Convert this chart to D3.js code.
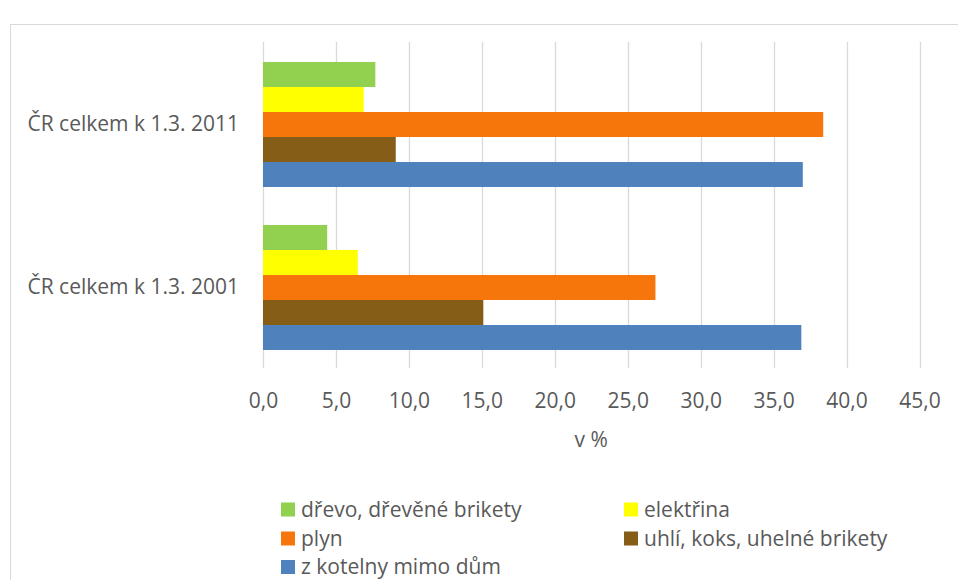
<!DOCTYPE html>
<html>
<head>
<meta charset="utf-8">
<script src="https://cdn.jsdelivr.net/npm/d3@7"></script>
<style>
  html, body { margin: 0; padding: 0; background: #fff; }
  svg { display: block; }
  text { font-family: "Open Sans", Lato, sans-serif; fill: #595959; }
</style>
</head>
<body>
<svg id="chart" width="958" height="580"></svg>
<script>
// Categories (census years), top to bottom
const categories = ["ČR celkem k 1.3. 2011", "ČR celkem k 1.3. 2001"];

// Heating source series, in legend / bar order
const seriesNames = [
  "dřevo, dřevěné brikety",
  "elektřina",
  "plyn",
  "uhlí, koks, uhelné brikety",
  "z kotelny mimo dům"
];
const seriesColors = ["#92d050", "#ffff00", "#f6760b", "#865d17", "#4f81bd"];

// Share of dwellings, v % (one value per category)
const drevo     = [7.7, 4.4];
const elektrina = [6.9, 6.5];
const plyn      = [38.4, 26.9];
const uhli      = [9.1, 15.1];
const kotelna   = [37.0, 36.9];
const seriesValues = [drevo, elektrina, plyn, uhli, kotelna];

const xTicks = [0, 5, 10, 15, 20, 25, 30, 35, 40, 45];
const xTitle = "v %";

const svg = d3.select("#chart");
const fs = 21;
const font = "'Open Sans', Lato, sans-serif";

// chart frame
svg.append("rect")
  .attr("x", 10.5).attr("y", 24.5)
  .attr("width", 1000).attr("height", 600)
  .attr("fill", "none").attr("stroke", "#d9d9d9").attr("stroke-width", 1);

const x = d3.scaleLinear().domain([0, 45]).range([263, 919.5]);
const y = d3.scaleBand().domain(categories).range([43, 369])
  .paddingInner(0.233).paddingOuter(0.1166);
const ySub = d3.scaleBand().domain(seriesNames).range([0, y.bandwidth()]);

// vertical gridlines
svg.append("g").selectAll("line").data(xTicks).join("line")
  .attr("x1", d => Math.round(x(d)) + 0.5).attr("x2", d => Math.round(x(d)) + 0.5)
  .attr("y1", 42).attr("y2", 368)
  .attr("stroke", "#d9d9d9").attr("stroke-width", 1.3);

// bars
const rows = [];
categories.forEach((c, ci) => {
  seriesNames.forEach((s, si) => {
    rows.push({ cat: c, series: s, value: seriesValues[si][ci], color: seriesColors[si] });
  });
});
svg.append("g").selectAll("rect").data(rows).join("rect")
  .attr("x", x(0))
  .attr("y", d => y(d.cat) + ySub(d.series))
  .attr("width", d => x(d.value) - x(0))
  .attr("height", ySub.bandwidth())
  .attr("fill", d => d.color);

// x axis tick labels
const xAxis = d3.axisBottom(x).tickValues(xTicks)
  .tickFormat(d => d3.format(".1f")(d).replace(".", ","))
  .tickSize(0).tickPadding(0);
const gx = svg.append("g").attr("transform", "translate(0,407.5)").call(xAxis);
gx.select(".domain").remove();
gx.selectAll("text").attr("font-size", fs).attr("fill", "#595959")
  .attr("font-family", font).attr("y", 0).attr("dy", null);

// axis title
svg.append("text").attr("x", x(22.5)).attr("y", 447)
  .attr("text-anchor", "middle").attr("font-size", fs).text(xTitle);

// category labels
const yAxis = d3.axisLeft(y).tickSize(0).tickPadding(24);
const gy = svg.append("g").attr("transform", `translate(${x(0)},0)`).call(yAxis);
gy.select(".domain").remove();
gy.selectAll("text").attr("font-size", fs).attr("fill", "#595959")
  .attr("font-family", font);

// legend
const legendPos = [[281, 509.5], [624, 509.5], [281, 538.5], [624, 538.5], [281, 567]];
const lg = svg.append("g").selectAll("g").data(seriesNames).join("g")
  .attr("transform", (d, i) => `translate(${legendPos[i][0]},${legendPos[i][1]})`);
lg.append("rect").attr("x", 0).attr("y", -7).attr("width", 14).attr("height", 14)
  .attr("fill", (d, i) => seriesColors[i]);
lg.append("text").attr("x", 20).attr("y", 0).attr("dy", "0.35em")
  .attr("font-size", fs).text(d => d);
</script>
</body>
</html>
